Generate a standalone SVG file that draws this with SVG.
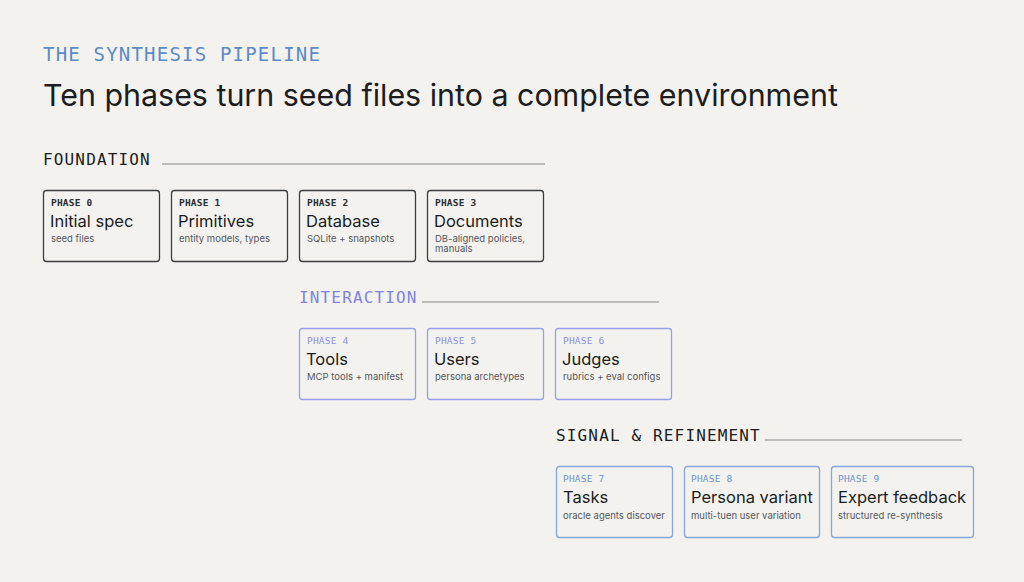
<svg xmlns="http://www.w3.org/2000/svg" width="1024" height="582" viewBox="0 0 1024 582">
<defs>
<style>
.bg{fill:#f3f2ef}
.eyebrow{font-family:"DejaVu Sans Mono","Liberation Mono",monospace;font-size:19px;letter-spacing:1.2px;fill:#5b8bc8}
.head{font-family:Inter,"Liberation Sans",sans-serif;font-size:30.4px;fill:#1b1d20}
.sec{font-family:"DejaVu Sans Mono","Liberation Mono",monospace;font-size:16px;letter-spacing:1.15px;fill:#1b1d20}
.rule{stroke:#888888;stroke-width:1.2}
.box{fill:#f3f2ef;stroke-width:1.3}
.b0{stroke:#3c3e42}.b1{stroke:#9b9fe8}.b2{stroke:#85a6d6}
.ph{font-family:"DejaVu Sans Mono","Liberation Mono",monospace;font-size:9.5px;letter-spacing:0.2px}
.p0{fill:#2c2e32;font-weight:bold}.p1{fill:#8d91e6}.p2{fill:#6b95cc}
.t{font-family:Inter,"Liberation Sans",sans-serif;font-size:16.5px;fill:#1b1d20}
.s{font-family:Inter,"Liberation Sans",sans-serif;font-size:9.5px;fill:#55585d}
</style>
</defs>
<rect class="bg" x="0" y="0" width="1024" height="582"/>
<text class="eyebrow" x="43" y="61">THE SYNTHESIS PIPELINE</text>
<text class="head" x="43" y="106">Ten phases turn seed files into a complete environment</text>

<g id="sections">
<text class="sec" x="43" y="165">FOUNDATION</text>
<text class="sec" x="299" y="303" style="fill:#7f83e2">INTERACTION</text>
<text class="sec" x="556" y="441">SIGNAL &amp; REFINEMENT</text>
</g>
<g id="connectors">
<line class="rule" x1="162" y1="164" x2="545" y2="164"/>
<line class="rule" x1="422" y1="302" x2="659" y2="302"/>
<line class="rule" x1="765" y1="440" x2="962" y2="440"/>
</g>

<g id="phase0"><rect class="box b0" x="43.5" y="190.5" width="116" height="71" rx="3"/>
<text class="ph p0" x="51" y="206">PHASE 0</text><text class="t" x="50" y="227">Initial spec</text><text class="s" x="51" y="242">seed files</text></g>
<g id="phase1"><rect class="box b0" x="171.5" y="190.5" width="116" height="71" rx="3"/>
<text class="ph p0" x="179" y="206">PHASE 1</text><text class="t" x="178" y="227">Primitives</text><text class="s" x="179" y="242">entity models, types</text></g>
<g id="phase2"><rect class="box b0" x="299.5" y="190.5" width="116" height="71" rx="3"/>
<text class="ph p0" x="307" y="206">PHASE 2</text><text class="t" x="306" y="227">Database</text><text class="s" x="307" y="242">SQLite + snapshots</text></g>
<g id="phase3"><rect class="box b0" x="427.5" y="190.5" width="116" height="71" rx="3"/>
<text class="ph p0" x="435" y="206">PHASE 3</text><text class="t" x="434" y="227">Documents</text><text class="s" x="435" y="242">DB-aligned policies,</text><text class="s" x="435" y="252">manuals</text></g>

<g id="phase4"><rect class="box b1" x="299.5" y="328.5" width="116" height="71" rx="3"/>
<text class="ph p1" x="307" y="344">PHASE 4</text><text class="t" x="306" y="365">Tools</text><text class="s" x="307" y="380">MCP tools + manifest</text></g>
<g id="phase5"><rect class="box b1" x="427.5" y="328.5" width="116" height="71" rx="3"/>
<text class="ph p1" x="435" y="344">PHASE 5</text><text class="t" x="434" y="365">Users</text><text class="s" x="435" y="380">persona archetypes</text></g>
<g id="phase6"><rect class="box b1" x="555.5" y="328.5" width="116" height="71" rx="3"/>
<text class="ph p1" x="563" y="344">PHASE 6</text><text class="t" x="562" y="365">Judges</text><text class="s" x="563" y="380">rubrics + eval configs</text></g>

<g id="phase7"><rect class="box b2" x="556.5" y="466.5" width="116" height="71" rx="3"/>
<text class="ph p2" x="563" y="482">PHASE 7</text><text class="t" x="563" y="503">Tasks</text><text class="s" x="563" y="519">oracle agents discover</text></g>
<g id="phase8"><rect class="box b2" x="684.5" y="466.5" width="135" height="71" rx="3"/>
<text class="ph p2" x="691" y="482">PHASE 8</text><text class="t" x="691" y="503">Persona variant</text><text class="s" x="691" y="519">multi-tuen user variation</text></g>
<g id="phase9"><rect class="box b2" x="831.5" y="466.5" width="142" height="71" rx="3"/>
<text class="ph p2" x="838" y="482">PHASE 9</text><text class="t" x="838" y="503">Expert feedback</text><text class="s" x="838" y="519">structured re-synthesis</text></g>
</svg>
